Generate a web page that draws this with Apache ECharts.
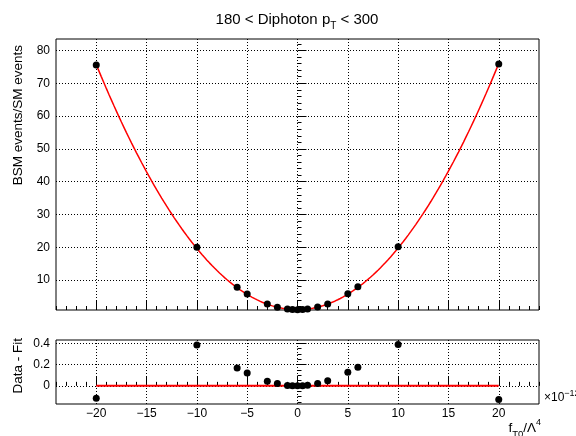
<!DOCTYPE html>
<html>
<head>
<meta charset="utf-8">
<script src="https://cdn.jsdelivr.net/npm/echarts@6/dist/echarts.min.js"></script>
<style>
html, body { margin: 0; padding: 0; background: #fff; }
#chart { width: 576px; height: 436px; }
</style>
</head>
<body>
<div id="chart"></div>
<script>
// Coupling values (in units of 1e-12) and the measured BSM/SM event ratios
const couplings = [-20, -10, -6, -5, -3, -2, -1, -0.5, 0, 0.5, 1, 2, 3, 5, 6, 10, 20];
const ratio = [75.61, 20.03, 7.86, 5.76, 2.71, 1.76, 1.18, 1.04, 1.00, 1.05, 1.20, 1.79, 2.76, 5.84, 7.96, 20.18, 75.90];
// Data minus fit for each coupling point
const residual = [-0.117, 0.384, 0.168, 0.121, 0.044, 0.022, 0.003, 0.000, 0.000, 0.000, 0.006, 0.022, 0.048, 0.127, 0.175, 0.387, -0.127];

// Second-order polynomial fit: p0 + p1*x + p2*x^2, fitted over fitRange
const fitParams = [1.0, 0.0075, 0.1872];
const fitRange = [-20, 20];

// Axis ticks
const xMajorTicks = [-20, -15, -10, -5, 0, 5, 10, 15, 20];
const xMinorTicks = [-24, -23, -22, -21, -19, -18, -17, -16, -14, -13, -12, -11, -9, -8, -7, -6, -4, -3, -2, -1,
  1, 2, 3, 4, 6, 7, 8, 9, 11, 12, 13, 14, 16, 17, 18, 19, 21, 22, 23, 24];
const ratioMajorTicks = [10, 20, 30, 40, 50, 60, 70, 80];
const ratioMinorTicks = [2, 4, 6, 8, 12, 14, 16, 18, 22, 24, 26, 28, 32, 34, 36, 38, 42, 44, 46, 48,
  52, 54, 56, 58, 62, 64, 66, 68, 72, 74, 76, 78, 82];
const residualMajorTicks = [0, 0.2, 0.4];
const residualMinorTicks = [-0.15, -0.1, -0.05, 0.05, 0.1, 0.15, 0.25, 0.3, 0.35];

const FONT = 'Liberation Sans, Arial, Helvetica, sans-serif';

function fitValue(x) {
  return fitParams[0] + fitParams[1] * x + fitParams[2] * x * x;
}
const fitCurve = [];
for (let x = fitRange[0]; x <= fitRange[1] + 1e-9; x += 0.25) {
  fitCurve.push([x, fitValue(x)]);
}

const ratioPoints = couplings.map((c, i) => [c, ratio[i]]);
const residualPoints = couplings.map((c, i) => [c, residual[i]]);
const zeroLine = [[fitRange[0], 0], [fitRange[1], 0]];

const minus = v => String(v).replace('-', '\u2212');

const gridLine = { show: true, lineStyle: { color: '#000', width: 1, type: [1, 2] } };

function majorX(gridIndex, withLabels) {
  return {
    gridIndex, type: 'value', min: -24, max: 24, splitNumber: 10, position: 'bottom',
    axisLine: { show: false },
    axisTick: { show: true, inside: true, length: 9, customValues: xMajorTicks, lineStyle: { color: '#000' } },
    axisLabel: withLabels ? {
      show: true, customValues: xMajorTicks, margin: 4, fontSize: 12, color: '#000',
      fontFamily: FONT, formatter: minus
    } : { show: false },
    splitLine: gridLine
  };
}
function minorX(gridIndex) {
  return {
    gridIndex, type: 'value', min: -24, max: 24, position: 'bottom',
    axisLine: { show: false },
    axisTick: { show: true, inside: true, length: 4, customValues: xMinorTicks, lineStyle: { color: '#000' } },
    axisLabel: { show: false },
    splitLine: { show: false }
  };
}
function majorY(gridIndex, min, max, split, ticks, len) {
  return {
    gridIndex, type: 'value', min, max, splitNumber: split, position: 'left',
    axisLine: { show: false },
    axisTick: { show: true, inside: true, length: len, customValues: ticks, lineStyle: { color: '#000' } },
    axisLabel: { show: true, customValues: ticks, margin: 6, fontSize: 12, color: '#000', fontFamily: FONT, formatter: minus },
    splitLine: gridLine
  };
}
function minorY(gridIndex, min, max, ticks, len) {
  return {
    gridIndex, type: 'value', min, max, position: 'left',
    axisLine: { show: false },
    axisTick: { show: true, inside: true, length: len, customValues: ticks, lineStyle: { color: '#000' } },
    axisLabel: { show: false },
    splitLine: { show: false }
  };
}

const chart = echarts.init(document.getElementById('chart'), null, { renderer: 'canvas' });

chart.setOption({
  animation: false,
  backgroundColor: '#fff',
  grid: [
    { left: 56, top: 39, width: 483, height: 271, show: true, borderColor: '#000', borderWidth: 1, backgroundColor: 'transparent' },
    { left: 56, top: 340, width: 483, height: 64, show: true, borderColor: '#000', borderWidth: 1, backgroundColor: 'transparent' }
  ],
  xAxis: [majorX(0, false), minorX(0), majorX(1, true), minorX(1)],
  yAxis: [
    majorY(0, 0.9, 83.5, 8, ratioMajorTicks, 9),
    minorY(0, 0.9, 83.5, ratioMinorTicks, 4),
    majorY(1, -0.17, 0.43, 3, residualMajorTicks, 9),
    minorY(1, -0.17, 0.43, residualMinorTicks, 4)
  ],
  series: [
    {
      type: 'line', xAxisIndex: 0, yAxisIndex: 0, data: fitCurve, showSymbol: false,
      lineStyle: { color: '#ff0000', width: 1.5 }, z: 3, silent: true
    },
    {
      type: 'scatter', xAxisIndex: 0, yAxisIndex: 0, data: ratioPoints, symbol: 'circle', symbolSize: 7,
      itemStyle: { color: '#000', opacity: 1 }, z: 4
    },
    {
      type: 'line', xAxisIndex: 2, yAxisIndex: 2, data: zeroLine, showSymbol: false,
      lineStyle: { color: '#ff0000', width: 2 }, z: 3, silent: true
    },
    {
      type: 'scatter', xAxisIndex: 2, yAxisIndex: 2, data: residualPoints, symbol: 'circle', symbolSize: 7,
      itemStyle: { color: '#000', opacity: 1 }, z: 4
    }
  ],
  graphic: [
    {
      type: 'text', x: 297, y: 20,
      style: {
        text: '{n|180 < Diphoton p}{s|T}{n| < 300}',
        align: 'center', verticalAlign: 'middle',
        rich: {
          n: { fontSize: 15, fontFamily: FONT, fill: '#000' },
          s: { fontSize: 10, fontFamily: FONT, fill: '#000', padding: [12, 0, 0, 0] }
        }
      }
    },
    {
      type: 'text', x: 18, y: 45, rotation: Math.PI / 2,
      style: { text: 'BSM events/SM events', align: 'right', verticalAlign: 'middle', fontSize: 13.5, fontFamily: FONT, fill: '#000' }
    },
    {
      type: 'text', x: 18, y: 338, rotation: Math.PI / 2,
      style: { text: 'Data - Fit', align: 'right', verticalAlign: 'middle', fontSize: 13.5, fontFamily: FONT, fill: '#000' }
    },
    {
      type: 'text', x: 544, y: 398,
      style: {
        text: '{n|\u00d710}{p|\u221212}',
        align: 'left', verticalAlign: 'middle',
        rich: {
          n: { fontSize: 12, fontFamily: FONT, fill: '#000' },
          p: { fontSize: 9, fontFamily: FONT, fill: '#000', padding: [0, 0, 8, 0] }
        }
      }
    },
    {
      type: 'text', x: 541, y: 428,
      style: {
        text: '{n|f}{s|T0}{n|/\u039b}{p|4}',
        align: 'right', verticalAlign: 'middle',
        rich: {
          n: { fontSize: 13.5, fontFamily: FONT, fill: '#000' },
          s: { fontSize: 9.5, fontFamily: FONT, fill: '#000', padding: [12, 0, 0, 0] },
          p: { fontSize: 9, fontFamily: FONT, fill: '#000', padding: [0, 0, 10, 0] }
        }
      }
    }
  ]
});
</script>
</body>
</html>
